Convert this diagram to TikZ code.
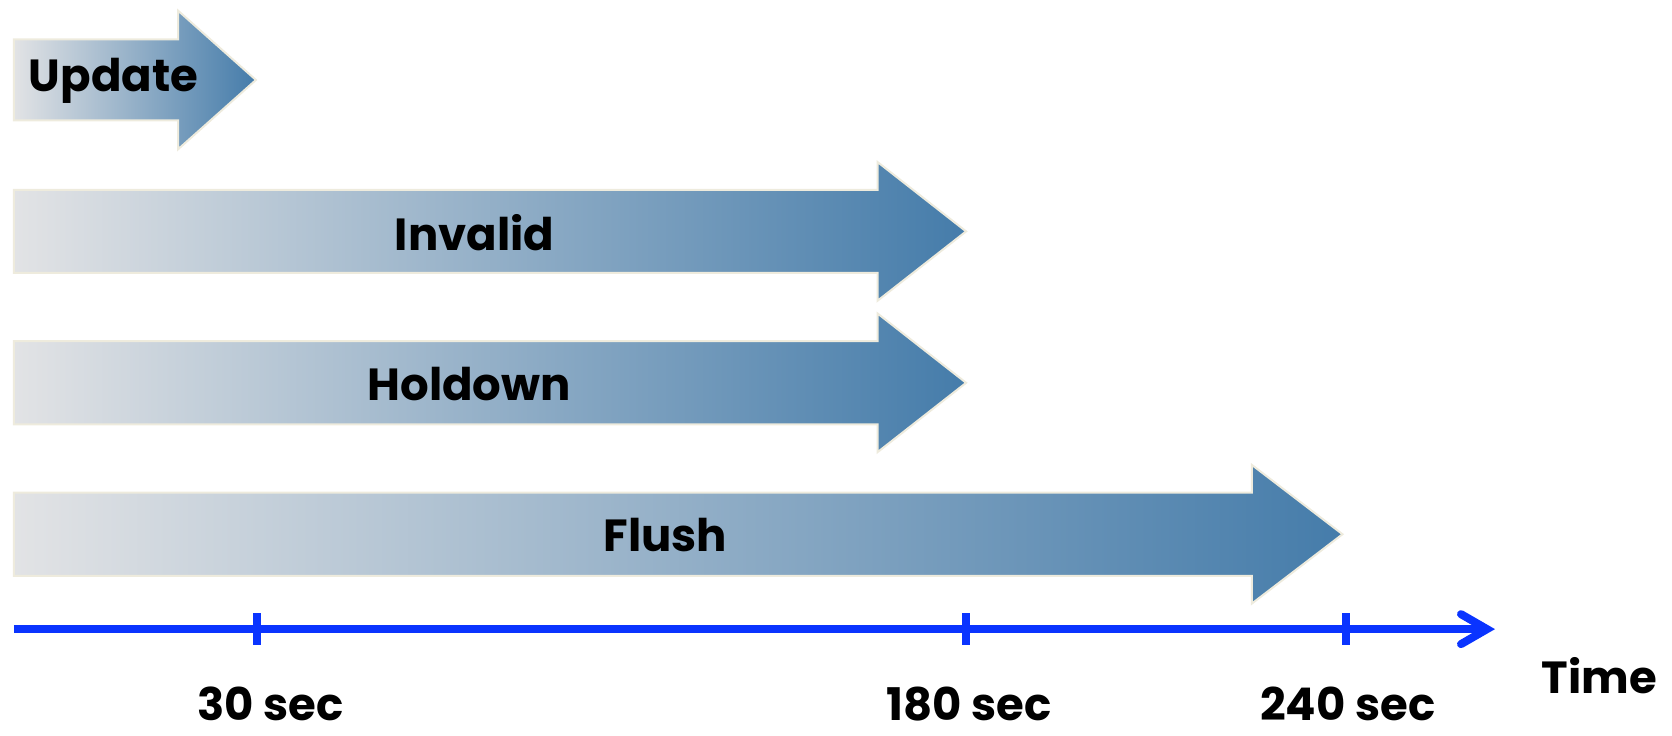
\documentclass[tikz,border=0pt]{standalone}
\usepackage{fontspec}
\setmainfont{Poppins}
\usetikzlibrary{arrows.meta}
\definecolor{lightend}{HTML}{E2E3E5}
\definecolor{darkend}{HTML}{457CAA}
\definecolor{rim}{HTML}{EEEBDD}
\definecolor{axisblue}{HTML}{0A34FF}
\tikzset{
  bigarrow/.style={left color=lightend, right color=darkend, draw=rim, line width=2pt},
  lbl/.style={font=\bfseries\fontsize{45}{48}\selectfont, text=black, inner sep=0pt},
  axis/.style={draw=axisblue, line width=8pt},
  tick/.style={draw=axisblue, line width=8pt}
}
\newcommand{\arrowshape}[5]{%
  \shade[bigarrow] (#1,#2) -- (#4,#2) -- (#4,#2-26) -- (#5,{(#2+#3)/2}) -- (#4,#3+26) -- (#4,#3) -- (#1,#3) -- cycle;%
}
\begin{document}
\begin{tikzpicture}[x=1.0663pt,y=-1.0663pt]
\useasboundingbox (0,0) rectangle (1568,689.3);
% arrows
\shade[bigarrow] (13,37) -- (167,37) -- (167,10) -- (240,75) -- (167,140) -- (167,113) -- (13,113) -- cycle;
\arrowshape{13}{178}{256}{823}{906}
\arrowshape{13}{320}{398}{823}{906}
\arrowshape{13}{462}{540}{1174}{1259}
\node[lbl, anchor=west] (update) at (27,76) {Update};
\node[lbl] (invalid) at (445,218) {Invalid};
\node[lbl] (holdown) at (440,360) {Holdown};
\node[lbl] (flush) at (624,502) {Flush};
% axis
\coordinate (a0) at (13,590);
\coordinate (a1) at (1402,590);
\draw[axis, -{Straight Barb[length=26pt,width=30pt,line cap=round]}] (a0) -- (a1);
\foreach \x/\n in {241/t1,906/t2,1262/t3}{
  \coordinate (\n a) at (\x,575);
  \coordinate (\n b) at (\x,605);
  \draw[tick] (\n a) -- (\n b);
}
\node[lbl] (s30) at (254,660) {30 sec};
\node[lbl] (s180) at (909,660) {180 sec};
\node[lbl] (s240) at (1264,660) {240 sec};
\node[lbl] (time) at (1500,634) {Time};
\end{tikzpicture}
\end{document}
